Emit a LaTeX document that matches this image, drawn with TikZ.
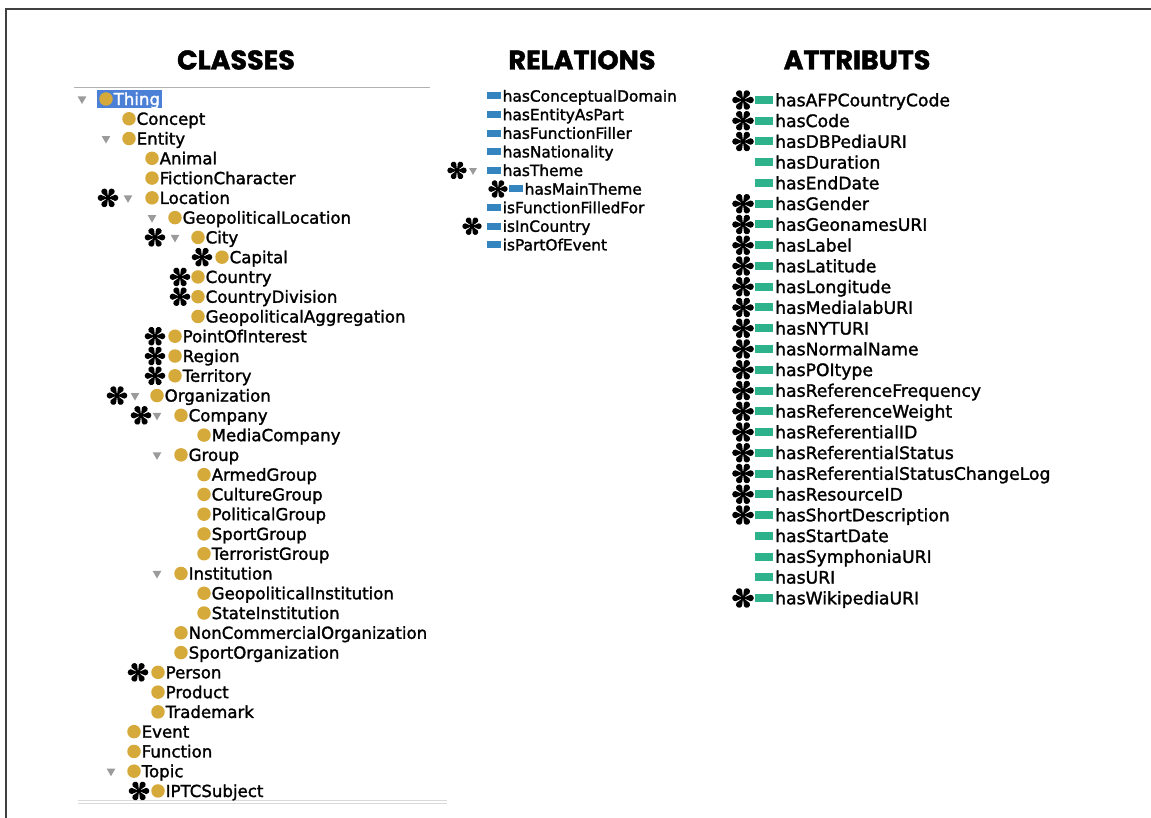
\documentclass[tikz,border=0pt]{standalone}
\usepackage{fontspec}
\setmainfont{DejaVu Sans}[FakeBold=1.6]
\newfontfamily\headfont{Poppins}[BoldFeatures={FakeBold=1.6}]
\usepackage{xcolor}
\usepackage{tikz}
\usetikzlibrary{shapes.geometric}

\definecolor{clsgold}{RGB}{214,170,58}
\definecolor{relblue}{RGB}{52,132,192}
\definecolor{attgreen}{RGB}{46,178,140}
\definecolor{selblue}{RGB}{76,128,214}
\definecolor{trigray}{RGB}{155,155,155}

\tikzset{
  asterisk/.pic={
    \foreach \a in {0,60,...,300}{
      \fill[black,rotate=\a] (0,0) -- (7.2,-3.1) arc[start angle=-90,end angle=90,radius=3.1] -- cycle;
    }
    \fill[black] (0,0) circle (2.6);
  }
}

\begin{document}
\begin{tikzpicture}[x=1pt, y=-1pt,
  head/.style={font=\headfont\bfseries\fontsize{27}{32}\selectfont, text height=19pt, text depth=0pt, inner sep=0pt},
  item/.style={anchor=west, inner sep=0pt, text depth=0pt},
  clsitem/.style={item, font=\fontsize{16.6}{20}\selectfont, text height=12.1pt},
  relitem/.style={item, font=\fontsize{15.4}{18}\selectfont, text height=11.2pt},
  attitem/.style={item, font=\fontsize{17.2}{21}\selectfont, text height=12.6pt},
  clsdot/.style={circle, fill=clsgold, minimum size=13.5pt, inner sep=0pt},
  reldot/.style={rectangle, fill=relblue, minimum width=14pt, minimum height=7pt, inner sep=0pt},
  attdot/.style={rectangle, fill=attgreen, minimum width=18pt, minimum height=8pt, inner sep=0pt},
  tri/.style={regular polygon, regular polygon sides=3, shape border rotate=180, fill=trigray, minimum size=10pt, inner sep=0pt}]
  \useasboundingbox (0,0) rectangle (1151,818);
  \draw[line width=2pt, black!75] (6,818) -- (6,9) -- (1151,9);

  % titles
  \node[head] (hcls) at (236,60) {CLASSES};
  \node[head] (hrel) at (582,60) {RELATIONS};
  \node[head] (hatt) at (857,60) {ATTRIBUTS};

  % classes tree
  \draw[black!30] (74,87) -- (430,87);
  \draw[black!15, line width=1pt] (78,800) -- (447,800) (78,803) -- (447,803);
  \fill[selblue] (97,90) rectangle (162,108);
  \node[clsdot] (clsdot1) at (106,99) {};
  \node[clsitem, text=white] (cls1) at (113.5,99) {Thing};
  \foreach \x/\lab [count=\i from 2] in {129/Concept,129/Entity,152/Animal,152/FictionCharacter,152/Location,
      175/GeopoliticalLocation,198/City,222/Capital,198/Country,198/CountryDivision,198/GeopoliticalAggregation,
      175/PointOfInterest,175/Region,175/Territory,157/Organization,181/Company,204/MediaCompany,181/Group,
      204/ArmedGroup,204/CultureGroup,204/PoliticalGroup,204/SportGroup,204/TerroristGroup,181/Institution,
      204/GeopoliticalInstitution,204/StateInstitution,181/NonCommercialOrganization,181/SportOrganization,
      158/Person,158/Product,158/Trademark,134/Event,134/Function,134/Topic,158/IPTCSubject}{
    \pgfmathsetmacro\yy{99+(\i-1)*19.77}
    \node[clsdot] (clsdot\i) at (\x,\yy) {};
    \node[clsitem] (cls\i) at (\x+7.5,\yy) {\lab};
  }
  \foreach \r/\x in {1/82,3/106,6/128,7/152,8/175,16/135,17/157,19/157,25/157,35/111}{
    \pgfmathsetmacro\yy{99+(\r-1)*19.77}
    \node[tri] (clstri\r) at (\x,\yy) {};
  }
  \foreach \r/\x in {6/108,8/155,9/202,10/180,11/180,13/155,14/155,15/155,16/117,17/141,30/138,36/139}{
    \pgfmathsetmacro\yy{99+(\r-1)*19.77}
    \pic at (\x,\yy) {asterisk};
  }

  % relations
  \foreach \x/\lab [count=\i] in {494/hasConceptualDomain,494/hasEntityAsPart,494/hasFunctionFiller,
      494/hasNationality,494/hasTheme,516/hasMainTheme,494/isFunctionFilledFor,494/isInCountry,494/isPartOfEvent}{
    \pgfmathsetmacro\yy{96+(\i-1)*18.6}
    \node[reldot] (reldot\i) at (\x,\yy) {};
    \node[relitem] (rel\i) at (\x+8.5,\yy) {\lab};
  }
  \node[tri, minimum size=9pt] (reltri5) at (473,170.4) {};
  \foreach \r/\x in {5/457,6/498,8/472}{
    \pgfmathsetmacro\yy{96+(\r-1)*18.6}
    \pic[scale=0.94] at (\x,\yy) {asterisk};
  }

  % attributes
  \foreach \lab [count=\i] in {hasAFPCountryCode,hasCode,hasDBPediaURI,hasDuration,hasEndDate,hasGender,
      hasGeonamesURI,hasLabel,hasLatitude,hasLongitude,hasMedialabURI,hasNYTURI,hasNormalName,hasPOItype,
      hasReferenceFrequency,hasReferenceWeight,hasReferentialID,hasReferentialStatus,
      hasReferentialStatusChangeLog,hasResourceID,hasShortDescription,hasStartDate,hasSymphoniaURI,
      hasURI,hasWikipediaURI}{
    \pgfmathsetmacro\yy{100+(\i-1)*20.75}
    \node[attdot] (attdot\i) at (764,\yy) {};
    \node[attitem] (att\i) at (775,\yy) {\lab};
  }
  \foreach \r in {1,2,3,6,7,...,21,25}{
    \pgfmathsetmacro\yy{100+(\r-1)*20.75}
    \pic[scale=1.05] at (743,\yy) {asterisk};
  }
\end{tikzpicture}
\end{document}
